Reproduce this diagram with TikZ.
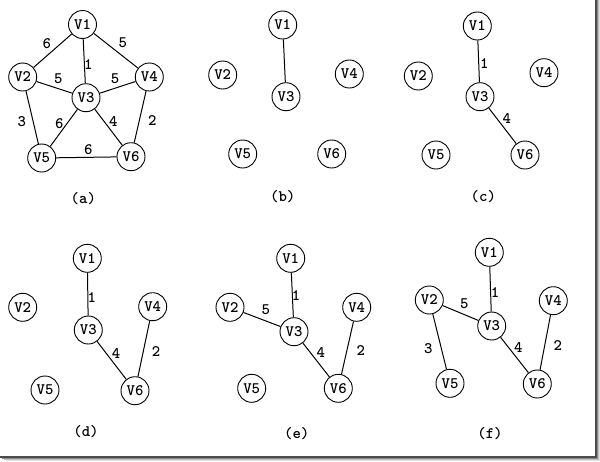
\documentclass[tikz,border=0pt]{standalone}
\begin{document}
\begin{tikzpicture}[x=1pt,y=-1pt,
  vtx/.style={circle,draw,line width=0.9pt,minimum size=28pt,inner sep=0pt,font=\fontsize{16}{16}\ttfamily\bfseries},
  lab/.style={inner sep=0pt,font=\fontsize{16}{16}\ttfamily\bfseries},
  edge/.style={line width=1pt}]
\useasboundingbox (0,0) rectangle (600,461);
% frame shadow
\draw[line width=2pt,black!70] (595.5,0) -- (595.5,456.5) -- (0,456.5);
\draw[line width=1pt,black!45] (597.5,0) -- (597.5,458.5) -- (2,458.5);
\draw[line width=1pt,black!25] (598.5,0) -- (598.5,459.5) -- (4,459.5);
\draw[line width=1pt,black!12] (599.5,0) -- (599.5,460.5) -- (6,460.5);
% (a)
\node[vtx] (a1) at (82.5,24.5) {V1};
\node[vtx] (a2) at (22.7,77) {V2};
\node[vtx] (a3) at (86,97.7) {V3};
\node[vtx] (a4) at (149.3,77) {V4};
\node[vtx] (a5) at (41.7,158) {V5};
\node[vtx] (a6) at (131,156.7) {V6};
\draw[edge] (a1)--(a2) (a1)--(a3) (a1)--(a4) (a2)--(a3) (a3)--(a4) (a2)--(a5) (a3)--(a5) (a3)--(a6) (a4)--(a6) (a5)--(a6);
\node[lab] (la12) at (46.7,43.3) {6};
\node[lab] (la14) at (122.7,42.7) {5};
\node[lab] (la13) at (88.3,65) {1};
\node[lab] (la23) at (58.3,79) {5};
\node[lab] (la34) at (115,79) {5};
\node[lab] (la25) at (21.7,121.7) {3};
\node[lab] (la35) at (59.3,124) {6};
\node[lab] (la36) at (113.3,121.7) {4};
\node[lab] (la46) at (152.3,120.7) {2};
\node[lab] (la56) at (88.3,150) {6};
\node[lab] (ca) at (83.3,199) {(a)};
% (b)
\node[vtx] (b1) at (282.7,25) {V1};
\node[vtx] (b2) at (222.7,75) {V2};
\node[vtx] (b3) at (286,96.7) {V3};
\node[vtx] (b4) at (349.3,74) {V4};
\node[vtx] (b5) at (242.7,154) {V5};
\node[vtx] (b6) at (331.7,154) {V6};
\draw[edge] (b1)--(b3);
\node[lab] (cb) at (282.7,196.7) {(b)};
% (c)
\node[vtx] (c1) at (477.3,26) {V1};
\node[vtx] (c2) at (418.3,76) {V2};
\node[vtx] (c3) at (480,96.7) {V3};
\node[vtx] (c4) at (544,72.7) {V4};
\node[vtx] (c5) at (436,155) {V5};
\node[vtx] (c6) at (525,155) {V6};
\draw[edge] (c1)--(c3) (c3)--(c6);
\node[lab] (lc13) at (484.3,64) {1};
\node[lab] (lc36) at (506.7,118.3) {4};
\node[lab] (cc) at (483.3,196.7) {(c)};
% (d)
\node[vtx] (d1) at (87.3,258.3) {V1};
\node[vtx] (d2) at (22.7,307.3) {V2};
\node[vtx] (d3) at (88.3,330) {V3};
\node[vtx] (d4) at (152.7,306.7) {V4};
\node[vtx] (d5) at (45,390) {V5};
\node[vtx] (d6) at (135,390.7) {V6};
\draw[edge] (d1)--(d3) (d3)--(d6) (d4)--(d6);
\node[lab] (ld13) at (91.7,297.3) {1};
\node[lab] (ld36) at (116,354) {4};
\node[lab] (ld46) at (156,351.7) {2};
\node[lab] (cd) at (86,431.7) {(d)};
% (e)
\node[vtx] (e1) at (290.7,258.3) {V1};
\node[vtx] (e2) at (230,307.3) {V2};
\node[vtx] (e3) at (294,331.7) {V3};
\node[vtx] (e4) at (356.7,307.3) {V4};
\node[vtx] (e5) at (251.7,388.3) {V5};
\node[vtx] (e6) at (338.3,388.3) {V6};
\draw[edge] (e1)--(e3) (e2)--(e3) (e3)--(e6) (e4)--(e6);
\node[lab] (le23) at (265.7,309.3) {5};
\node[lab] (le13) at (296,296) {1};
\node[lab] (le36) at (320.7,352.7) {4};
\node[lab] (le46) at (360.7,351) {2};
\node[lab] (ce) at (296.7,433.3) {(e)};
% (f)
\node[vtx] (f1) at (489.3,252.3) {V1};
\node[vtx] (f2) at (429.3,300) {V2};
\node[vtx] (f3) at (491.7,326) {V3};
\node[vtx] (f4) at (553.3,300.7) {V4};
\node[vtx] (f5) at (450,383.3) {V5};
\node[vtx] (f6) at (537.3,384) {V6};
\draw[edge] (f1)--(f3) (f2)--(f3) (f2)--(f5) (f3)--(f6) (f4)--(f6);
\node[lab] (lf23) at (464.3,304) {5};
\node[lab] (lf13) at (495,292.7) {1};
\node[lab] (lf25) at (428.3,348.3) {3};
\node[lab] (lf36) at (518.3,347.7) {4};
\node[lab] (lf46) at (557.7,346) {2};
\node[lab] (cf) at (490,433.3) {(f)};
\end{tikzpicture}
\end{document}
